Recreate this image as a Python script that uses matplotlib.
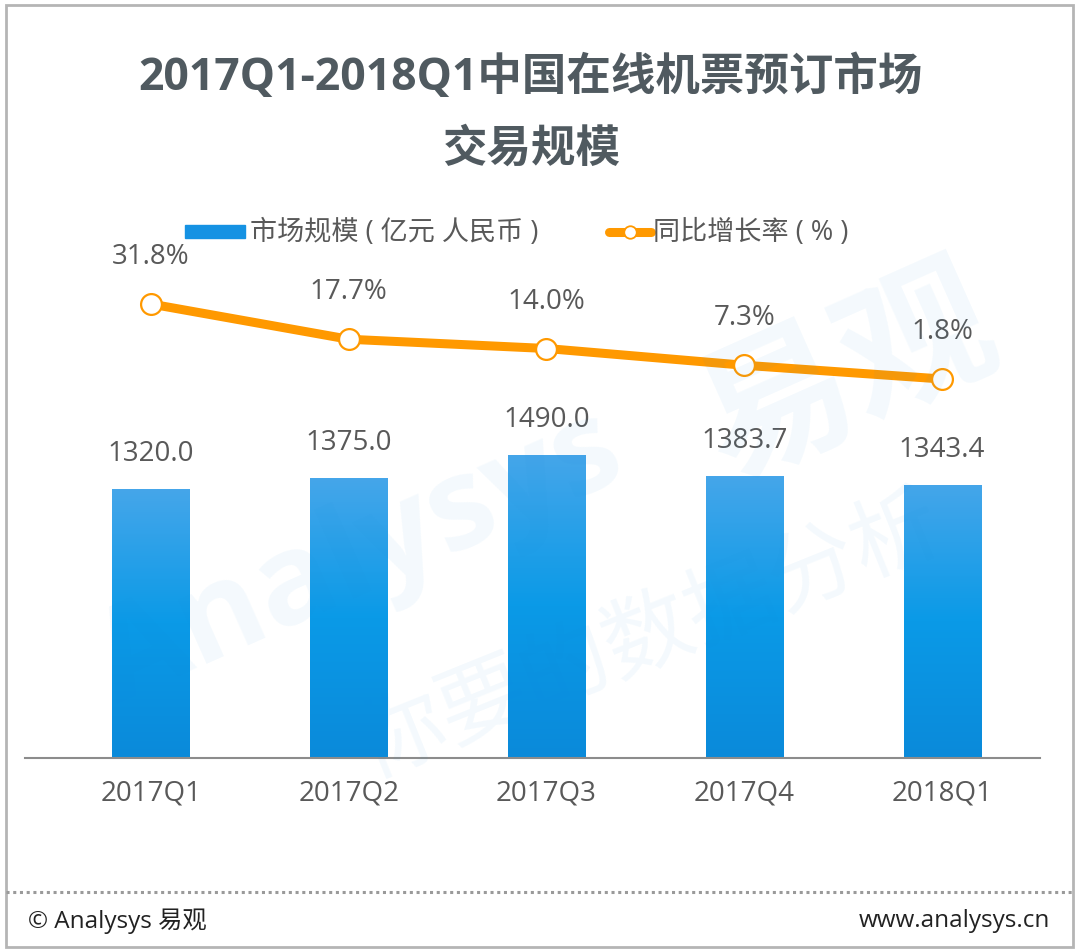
import numpy as np
import matplotlib.pyplot as plt
from matplotlib.patches import Rectangle
from matplotlib.lines import Line2D
from matplotlib.colors import LinearSegmentedColormap

plt.rcParams['font.family'] = ['Open Sans', 'Noto Sans CJK SC', 'DejaVu Sans']

# data
quarters = ['2017Q1', '2017Q2', '2017Q3', '2017Q4', '2018Q1']
market_size = [1320.0, 1375.0, 1490.0, 1383.7, 1343.4]
growth_rate = [31.8, 17.7, 14.0, 7.3, 1.8]

title = '2017Q1-2018Q1中国在线机票预订市场\n交易规模'
legend_bar = '市场规模 ( 亿元 人民币 )'
legend_line = '同比增长率 ( % )'

W, H = 1080, 953
fig = plt.figure(figsize=(W / 100, H / 100), dpi=100)
fig.patch.set_facecolor('white')


def fx(x):
    return x / W


def fy(y):
    return 1 - y / H


grey = '#595959'
orange = '#FF9900'

# outer frame and dotted separator
fig.patches.append(Rectangle((fx(6), fy(948)), fx(1073) - fx(6), fy(6) - fy(948),
                             transform=fig.transFigure, fill=False,
                             edgecolor='#B5B5B5', lw=2))
fig.lines.append(Line2D([fx(6), fx(1073)], [fy(893), fy(893)], transform=fig.transFigure,
                        color='#9A9A9A', lw=2.2, linestyle=(0, (1, 1.2))))

# title
fig.text(fx(531), fy(78), title.split('\n')[0], ha='center', va='center', fontsize=32,
         fontweight='bold', color='#505A60')
fig.text(fx(531), fy(150), title.split('\n')[1], ha='center', va='center', fontsize=32,
         fontweight='bold', color='#505A60')

# watermark
fig.text(fx(360), fy(560), 'Analysys', fontsize=92, color='#1E8FE0', alpha=0.05,
         rotation=24, ha='center', va='center', fontweight='bold', zorder=0)
fig.text(fx(850), fy(380), '易观', fontsize=110, color='#1E8FE0', alpha=0.05,
         rotation=24, ha='center', va='center', fontweight='bold', zorder=0)
fig.text(fx(650), fy(640), '你要的数据分析', fontsize=64, color='#1E8FE0', alpha=0.05,
         rotation=22, ha='center', va='center', zorder=0)

# axes: baseline at y=759, x-axis from 25 to 1040
left, right, bottom, top = 25, 1040, 759, 200
px_per_unit = 0.2035
ax = fig.add_axes([fx(left), fy(bottom), fx(right) - fx(left), fy(top) - fy(bottom)])
ax.patch.set_alpha(0)
x = np.arange(len(quarters))

bars = ax.bar(x, market_size, width=0.39, color='none', zorder=2)
cmap = LinearSegmentedColormap.from_list('bar', ['#0B8ADA', '#0A9AE7', '#45A6EA'])
grad = np.linspace(0, 1, 256).reshape(-1, 1)
for b in bars:
    bx, by = b.get_x(), b.get_y()
    im = ax.imshow(grad, extent=[bx, bx + b.get_width(), by, by + b.get_height()],
                   origin='lower', aspect='auto', cmap=cmap, zorder=2)
    im.set_clip_path(b)
ax.set_xlim(-0.636, 4.495)
ax.set_ylim(0, (bottom - top) / px_per_unit)

for xi, v in zip(x, market_size):
    ax.annotate(f'{v:.1f}', (xi, v), xytext=(0, 26), textcoords='offset points',
                ha='center', va='center', fontsize=20, color=grey)

for s in ['top', 'left', 'right']:
    ax.spines[s].set_visible(False)
ax.spines['bottom'].set_color('#8C8C8C')
ax.spines['bottom'].set_linewidth(1.5)
ax.set_yticks([])
ax.set_xticks(x, quarters)
ax.tick_params(axis='x', length=0, pad=15, labelsize=20, labelcolor=grey)

# growth line on twin axes
ax2 = ax.twinx()
ax2.patch.set_alpha(0)
zero_px = 384.5
ax2.set_ylim(-(bottom - zero_px) / 2.5, (zero_px - top) / 2.5)
ax2.plot(x, growth_rate, color=orange, lw=6.5, marker='o', markersize=15,
         markerfacecolor='white', markeredgecolor=orange, markeredgewidth=1.6,
         zorder=3, solid_capstyle='butt')
for xi, v in zip(x, growth_rate):
    ax2.annotate(f'{v:.1f}%', (xi, v), xytext=(0, 34.5), textcoords='offset points',
                 ha='center', va='center', fontsize=20, color=grey)
ax2.set_yticks([])
for s in ax2.spines.values():
    s.set_visible(False)

# legend (drawn by hand)
fig.patches.append(Rectangle((fx(185), fy(239)), fx(245) - fx(185), fy(226) - fy(239),
                             transform=fig.transFigure, color='#1592E3'))
fig.text(fx(250), fy(233), legend_bar, ha='left', va='center', fontsize=19.5, color=grey)
fig.lines.append(Line2D([fx(609), fx(651)], [fy(233), fy(233)], transform=fig.transFigure,
                        color=orange, lw=6.5, solid_capstyle='round'))
fig.lines.append(Line2D([fx(630)], [fy(233)], transform=fig.transFigure, marker='o',
                        markersize=9, markerfacecolor='white', markeredgecolor=orange,
                        markeredgewidth=1.3, linestyle='none'))
fig.text(fx(653), fy(233), legend_line, ha='left', va='center', fontsize=19.5, color=grey)

# footer
fig.text(fx(28), fy(921), '© Analysys 易观', ha='left', va='center', fontsize=17.5,
         color='#222222')
fig.text(fx(1050), fy(921), 'www.analysys.cn', ha='right', va='center', fontsize=17.5,
         color='#222222')

fig.savefig('out.png', dpi=100, facecolor='white')
